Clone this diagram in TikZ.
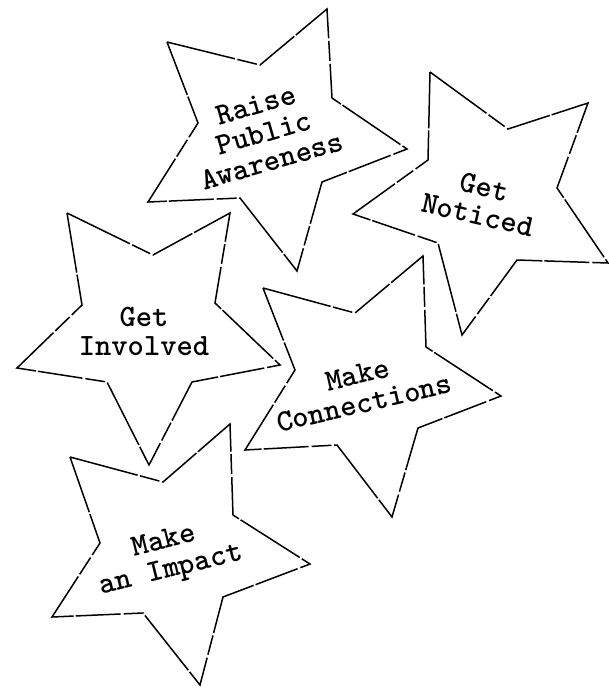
\documentclass[tikz,border=0pt]{standalone}
\begin{document}
\begin{tikzpicture}[x=1pt,y=-1pt,
  starline/.style={line width=1.5pt, line join=miter, dash pattern=on 70pt off 2.5pt on 20pt off 3pt on 45pt off 2pt},
  label/.style={font=\ttfamily\bfseries\fontsize{31}{29}\selectfont, align=center, inner sep=0pt}]
\useasboundingbox (0,0) rectangle (609,688);
% Star 1: Raise Public Awareness
\draw[starline] (167,42) -- (260,65) -- (327,9) -- (332,98) -- (407,149) -- (322,182) -- (297,271) -- (240,198) -- (148,202) -- (198,123) -- cycle;
% Star 2: Get Noticed
\draw[starline] (430,72) -- (508,129) -- (588,103) -- (557,188) -- (608,263) -- (517,260) -- (462,335) -- (438,243) -- (353,214) -- (428,160) -- cycle;
% Star 3: Get Involved
\draw[starline] (67,213) -- (153,255) -- (230,213) -- (215,303) -- (280,365) -- (192,382) -- (149,465) -- (107,382) -- (17,368) -- (82,305) -- cycle;
% Star 4: Make Connections
\draw[starline] (263,288) -- (355,313) -- (423,256) -- (426,347) -- (501,396) -- (418,428) -- (392,517) -- (337,445) -- (245,450) -- (295,370) -- cycle;
% Star 5: Make an Impact
\draw[starline] (70,457) -- (163,482) -- (230,424) -- (233,515) -- (310,564) -- (223,597) -- (200,685) -- (143,613) -- (52,617) -- (100,543) -- cycle;
% Labels
\node[label, rotate=16] (t1) at (264,133) {Raise\\Public\\Awareness};
\node[label, rotate=-13] (t2) at (481,201) {Get\\Noticed};
\node[label] (t3) at (144,331) {Get\\Involved};
\node[label, rotate=13] (t4) at (361,389) {Make\\Connections};
\node[label, rotate=14] (t5) at (168,557) {Make\\an Impact};
\end{tikzpicture}
\end{document}
